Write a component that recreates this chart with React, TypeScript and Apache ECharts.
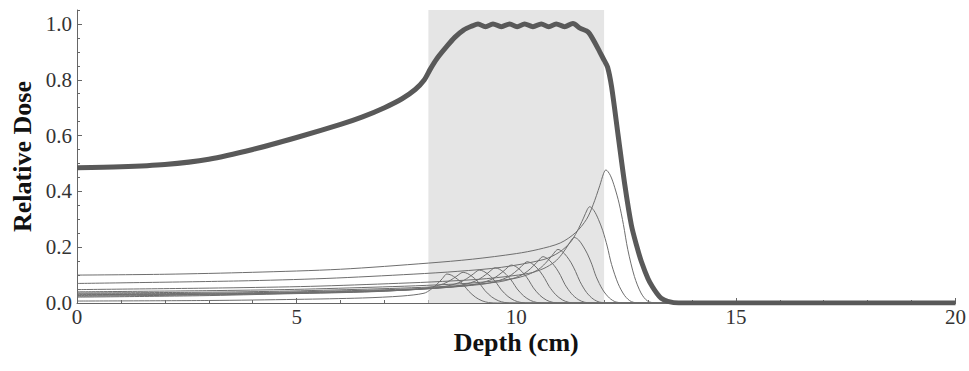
import React, { useEffect, useRef } from "react";
import * as echarts from "echarts";

// Depth (cm) / relative dose readings
const xTicks = [0, 5, 10, 15, 20];
const yMajorTicks = [0, 0.2, 0.4, 0.6, 0.8, 1.0];
const shadeRange = [8, 12];

const sobpDose: number[][] = [
  [0, 0.485], [1, 0.488], [2, 0.496], [3, 0.515], [4, 0.55], [5, 0.593], [6, 0.64], [6.5, 0.667],
  [7, 0.7], [7.4, 0.732], [7.7, 0.765], [7.9, 0.798], [8.05, 0.84], [8.2, 0.877], [8.4, 0.916],
  [8.6, 0.952], [8.8, 0.978], [9.0, 0.993], [9.13, 1.0], [9.3, 0.99], [9.47, 1.0], [9.66, 0.99],
  [9.85, 1.0], [10.02, 0.99], [10.19, 1.0], [10.38, 0.99], [10.57, 1.0], [10.74, 0.99], [10.91, 1.0],
  [11.1, 0.99], [11.29, 1.002], [11.45, 0.985], [11.6, 0.975], [11.67, 0.965], [11.8, 0.93],
  [11.9, 0.9], [12.0, 0.87], [12.08, 0.845], [12.17, 0.775], [12.32, 0.6], [12.47, 0.425],
  [12.62, 0.28], [12.75, 0.2], [12.85, 0.148], [13.0, 0.087], [13.1, 0.058], [13.2, 0.035],
  [13.3, 0.017], [13.45, 0.006], [13.7, 0], [20, 0],
];

const peak1: number[][] = [
  [0, 0.1], [2, 0.103], [4, 0.11], [6, 0.121], [8, 0.143], [9, 0.157], [10, 0.177], [10.5, 0.192],
  [11, 0.215], [11.35, 0.252], [11.6, 0.3], [11.75, 0.352], [11.9, 0.42], [11.99, 0.465], [12.04, 0.477],
  [12.14, 0.458], [12.24, 0.415], [12.34, 0.358], [12.44, 0.281], [12.54, 0.191], [12.69, 0.095],
  [12.84, 0.036], [12.99, 0.007], [13.2, 0], [20, 0],
];
const peak2: number[][] = [
  [0, 0.07], [3.67, 0.079], [5.67, 0.088], [7.67, 0.1035], [8.67, 0.1135], [9.67, 0.128], [10.63, 0.156],
  [10.98, 0.182], [11.23, 0.217], [11.38, 0.255], [11.53, 0.304], [11.62, 0.336], [11.67, 0.345],
  [11.77, 0.331], [11.87, 0.3], [11.97, 0.259], [12.07, 0.204], [12.17, 0.138], [12.32, 0.069],
  [12.47, 0.026], [12.62, 0.005], [12.83, 0], [20, 0],
];
const peak3: number[][] = [
  [0, 0.048], [3.32, 0.054], [5.32, 0.0597], [7.32, 0.0705], [8.32, 0.0773], [9.32, 0.0872], [10.28, 0.106],
  [10.63, 0.124], [10.88, 0.148], [11.03, 0.173], [11.18, 0.207], [11.27, 0.229], [11.32, 0.235],
  [11.42, 0.226], [11.52, 0.204], [11.62, 0.176], [11.72, 0.139], [11.82, 0.094], [11.97, 0.047],
  [12.12, 0.018], [12.27, 0.0035], [12.48, 0], [20, 0],
];
const peak4: number[][] = [
  [0, 0.04], [2.95, 0.0442], [4.95, 0.0488], [6.95, 0.0576], [7.95, 0.0632], [8.95, 0.0712], [9.91, 0.0866],
  [10.26, 0.1014], [10.51, 0.1208], [10.66, 0.1417], [10.81, 0.169], [10.9, 0.187], [10.95, 0.192],
  [11.05, 0.184], [11.15, 0.167], [11.25, 0.144], [11.35, 0.113], [11.45, 0.077], [11.6, 0.038],
  [11.75, 0.0144], [11.9, 0.003], [12.11, 0], [20, 0],
];
const peak5: number[][] = [
  [0, 0.036], [2.61, 0.0382], [4.61, 0.0422], [6.61, 0.0498], [7.61, 0.0546], [8.61, 0.0616], [9.57, 0.0749],
  [9.92, 0.0876], [10.17, 0.1044], [10.32, 0.1225], [10.47, 0.146], [10.56, 0.162], [10.61, 0.166],
  [10.71, 0.159], [10.81, 0.144], [10.91, 0.1245], [11.01, 0.098], [11.11, 0.066], [11.26, 0.033],
  [11.41, 0.0125], [11.56, 0.0025], [11.77, 0], [20, 0],
];
const peak6: number[][] = [
  [0, 0.033], [2.25, 0.034], [4.25, 0.0376], [6.25, 0.0444], [7.25, 0.0487], [8.25, 0.0549], [9.21, 0.0667],
  [9.56, 0.0781], [9.81, 0.0931], [9.96, 0.1092], [10.11, 0.13], [10.2, 0.144], [10.25, 0.148],
  [10.35, 0.142], [10.45, 0.129], [10.55, 0.111], [10.65, 0.0873], [10.75, 0.0592], [10.9, 0.0296],
  [11.05, 0.0111], [11.2, 0.0022], [11.41, 0], [20, 0],
];
const peak7: number[][] = [
  [0, 0.03], [1.89, 0.0313], [3.89, 0.0345], [5.89, 0.0408], [6.89, 0.0447], [7.89, 0.0505], [8.85, 0.0613],
  [9.2, 0.0718], [9.45, 0.0855], [9.6, 0.1004], [9.75, 0.1197], [9.84, 0.1326], [9.89, 0.136],
  [9.99, 0.1306], [10.09, 0.1183], [10.19, 0.102], [10.29, 0.0802], [10.39, 0.0544], [10.54, 0.0272],
  [10.69, 0.0102], [10.84, 0.002], [11.05, 0], [20, 0],
];
const peak8: number[][] = [
  [0, 0.027], [1.52, 0.029], [3.52, 0.032], [5.52, 0.0378], [6.52, 0.0415], [7.52, 0.0467], [8.48, 0.0568],
  [8.83, 0.0665], [9.08, 0.0793], [9.23, 0.093], [9.38, 0.1109], [9.47, 0.1229], [9.52, 0.126],
  [9.62, 0.121], [9.72, 0.1096], [9.82, 0.0945], [9.92, 0.0743], [10.02, 0.0504], [10.17, 0.0252],
  [10.32, 0.0095], [10.47, 0.0019], [10.68, 0], [20, 0],
];
const peak9: number[][] = [
  [0, 0.024], [3.16, 0.0295], [5.16, 0.0354], [6.16, 0.0388], [7.16, 0.0438], [8.12, 0.0532],
  [8.47, 0.0623], [8.72, 0.0742], [8.87, 0.0871], [9.02, 0.1038], [9.11, 0.115], [9.16, 0.118],
  [9.26, 0.1133], [9.36, 0.1027], [9.46, 0.0885], [9.56, 0.0696], [9.66, 0.0472], [9.81, 0.0236],
  [9.96, 0.0089], [10.11, 0.0018], [10.32, 0], [20, 0],
];
const peak10: number[][] = [
  [0, 0.021], [2.79, 0.026], [4.79, 0.033], [5.79, 0.0362], [6.79, 0.0408], [7.75, 0.0496],
  [8.1, 0.0581], [8.35, 0.0692], [8.5, 0.0812], [8.65, 0.0968], [8.74, 0.1073], [8.79, 0.11],
  [8.89, 0.1056], [8.99, 0.0957], [9.09, 0.0825], [9.19, 0.0649], [9.29, 0.044], [9.44, 0.022],
  [9.59, 0.0083], [9.74, 0.0017], [9.95, 0], [20, 0],
];
const peak11: number[][] = [
  [0, 0.007], [3, 0.009], [5, 0.013], [6.5, 0.018], [7.4, 0.025], [7.9, 0.035], [8.05, 0.048],
  [8.2, 0.068], [8.32, 0.088], [8.42, 0.104], [8.52, 0.1], [8.62, 0.09], [8.72, 0.078], [8.82, 0.061],
  [8.92, 0.042], [9.07, 0.021], [9.22, 0.008], [9.37, 0.0016], [9.58, 0], [20, 0],
];

const pristinePeaks = [peak1, peak2, peak3, peak4, peak5, peak6, peak7, peak8, peak9, peak10, peak11];

const FONT = "'Liberation Serif', 'Times New Roman', serif";
const AXIS_COLOR = "#666666";

export default function App() {
  const ref = useRef<HTMLDivElement>(null);

  useEffect(() => {
    if (!ref.current) return;
    const chart = echarts.init(ref.current, null, { renderer: "svg" });

    const thinSeries = pristinePeaks.map((d, i) => ({
      type: "line",
      name: "peak" + (i + 1),
      data: d,
      showSymbol: false,
      symbol: "none",
      smooth: 0.3,
      z: 3,
      lineStyle: { color: "#6e6e6e", width: 1 },
      silent: true,
    }));

    const option: any = {
      animation: false,
      backgroundColor: "#ffffff",
      grid: { left: 77, right: 13, top: 10, bottom: 68, containLabel: false },
      xAxis: {
        type: "value",
        min: xTicks[0],
        max: xTicks[xTicks.length - 1],
        interval: 5,
        name: "Depth (cm)",
        nameLocation: "middle",
        nameGap: 29,
        nameMoveOverlap: false,
        nameTextStyle: { fontFamily: FONT, fontSize: 26, lineHeight: 20, fontWeight: "bold", color: "#111" },
        axisLine: { show: true, onZero: false, lineStyle: { color: AXIS_COLOR, width: 1 } },
        axisTick: { show: true, inside: true, length: 5, lineStyle: { color: AXIS_COLOR } },
        minorTick: { show: true, splitNumber: 5, length: 3, lineStyle: { color: AXIS_COLOR } },
        axisLabel: { fontFamily: FONT, fontSize: 21, lineHeight: 16, color: "#333", margin: 5.5 },
        splitLine: { show: false },
      },
      yAxis: [
        {
          type: "value",
          min: 0,
          max: 1.05,
          interval: 0.05,
          position: "left",
          axisLine: { show: true, onZero: false, lineStyle: { color: AXIS_COLOR, width: 1 } },
          axisTick: { show: true, inside: true, length: 3, lineStyle: { color: AXIS_COLOR } },
          axisLabel: { show: false },
          splitLine: { show: false },
        },
        {
          type: "value",
          min: 0,
          max: 1.05,
          position: "left",
          name: "Relative Dose",
          nameLocation: "middle",
          nameGap: 42,
          nameRotate: 90,
          nameMoveOverlap: false,
          nameTextStyle: { fontFamily: FONT, fontSize: 26, fontWeight: "bold", color: "#111" },
          axisLine: { show: false },
          axisTick: { show: true, inside: true, length: 5, customValues: yMajorTicks, lineStyle: { color: AXIS_COLOR } },
          axisLabel: {
            fontFamily: FONT,
            fontSize: 21,
            color: "#333",
            margin: 5,
            customValues: yMajorTicks,
            formatter: (v: number) => v.toFixed(1),
          },
          splitLine: { show: false },
        },
      ],
      series: [
        {
          type: "line",
          data: [],
          z: 1,
          silent: true,
          markArea: {
            silent: true,
            itemStyle: { color: "#e5e5e5" },
            data: [[{ xAxis: shadeRange[0], yAxis: 0 }, { xAxis: shadeRange[1], yAxis: 1.05 }]],
          },
        },
        ...thinSeries,
        {
          type: "line",
          name: "SOBP",
          data: sobpDose,
          showSymbol: false,
          symbol: "none",
          smooth: 0.3,
          z: 5,
          lineStyle: { color: "#595959", width: 5 },
          silent: true,
        },
      ],
    };

    chart.setOption(option);
    return () => chart.dispose();
  }, []);

  return (
    <div
      ref={ref}
      style={{ position: "fixed", left: 0, top: 0, width: 969, height: 371, background: "#fff" }}
    />
  );
}
